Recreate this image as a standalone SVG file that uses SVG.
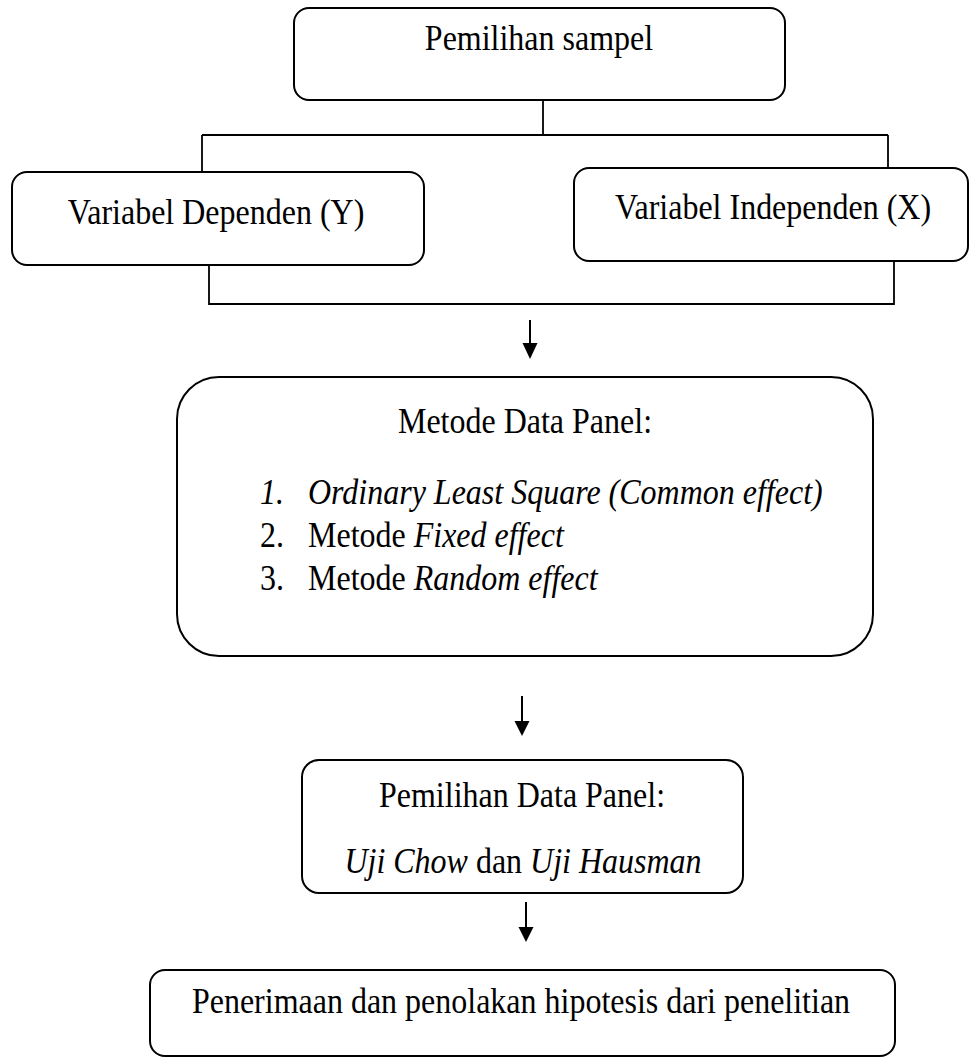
<svg xmlns="http://www.w3.org/2000/svg" width="971" height="1059" viewBox="0 0 971 1059">
<style>
.box{fill:#fff;stroke:#000;stroke-width:2}
.ln{fill:none;stroke:#000;stroke-width:1.8}
text{font-family:"Liberation Serif","Times New Roman",serif;font-size:32px;fill:#000}
.c{text-anchor:middle}
.i{font-style:italic}
</style>
<rect width="971" height="1059" fill="#fff"/>
<g id="connectors">
<path class="ln" d="M543,100 V135 M202,135 H888 M202,135 V172 M888,135 V168"/>
<path class="ln" d="M209,265 V304 H894 V261"/>
<line x1="530" y1="320" x2="530" y2="344" stroke="#000" stroke-width="2"/>
<polygon points="522.5,343 537.5,343 530,359" fill="#000"/>
<line x1="522" y1="696" x2="522" y2="722" stroke="#000" stroke-width="2"/>
<polygon points="514.5,721 529.5,721 522,736" fill="#000"/>
<line x1="526" y1="902" x2="526" y2="928" stroke="#000" stroke-width="2"/>
<polygon points="518.5,927 533.5,927 526,942" fill="#000"/>
</g>
<g id="node-sampel">
<rect class="box" x="294" y="8" width="491" height="92" rx="15"/>
<text class="c" transform="translate(539,50) scale(1,1.15)">Pemilihan sampel</text>
</g>
<g id="node-dependen">
<rect class="box" x="12" y="172" width="412" height="93" rx="15"/>
<text class="c" transform="translate(216,224) scale(1,1.15)">Variabel Dependen (Y)</text>
</g>
<g id="node-independen">
<rect class="box" x="574" y="168" width="394" height="93" rx="15"/>
<text class="c" transform="translate(773,219) scale(1,1.15)">Variabel Independen (X)</text>
</g>
<g id="node-metode">
<rect class="box" x="177" y="377" width="696" height="279" rx="42"/>
<text class="c" transform="translate(525,433) scale(1,1.15)">Metode Data Panel:</text>
<text class="i" transform="translate(260,504) scale(1,1.15)">1.</text>
<text class="i" transform="translate(308,504) scale(1,1.15)">Ordinary Least Square (Common effect)</text>
<text transform="translate(260,547) scale(1,1.15)">2.</text>
<text transform="translate(308,547) scale(1,1.15)">Metode <tspan class="i">Fixed effect</tspan></text>
<text transform="translate(260,590) scale(1,1.15)">3.</text>
<text transform="translate(308,590) scale(1,1.15)">Metode <tspan class="i">Random effect</tspan></text>
</g>
<g id="node-pemilihan-data">
<rect class="box" x="302" y="760" width="441" height="133" rx="17"/>
<text class="c" transform="translate(522,807) scale(1,1.15)">Pemilihan Data Panel:</text>
<text class="c" transform="translate(523,873) scale(1,1.15)"><tspan class="i">Uji Chow</tspan> dan <tspan class="i">Uji Hausman</tspan></text>
</g>
<g id="node-hipotesis">
<rect class="box" x="150" y="970" width="745" height="86" rx="15"/>
<text class="c" transform="translate(521,1013) scale(1,1.15)">Penerimaan dan penolakan hipotesis dari penelitian</text>
</g>
</svg>
